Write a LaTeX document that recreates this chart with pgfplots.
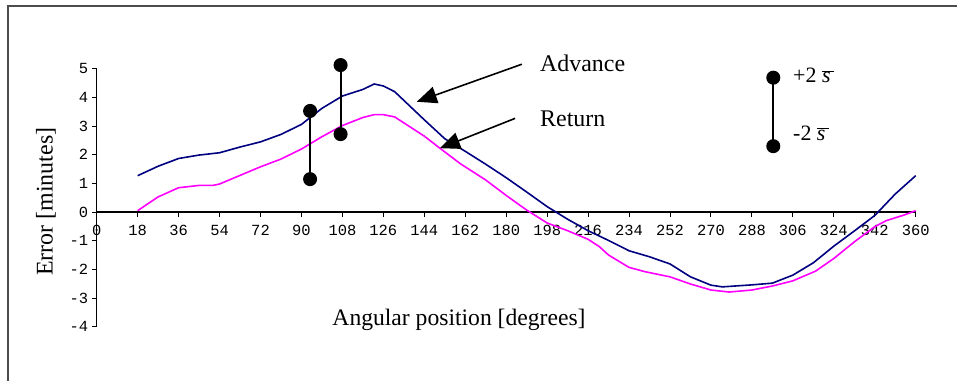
\documentclass[border=0pt]{standalone}
\usepackage{fontspec}
\setmainfont{Liberation Serif}
\setmonofont{Liberation Mono}
\usepackage{pgfplots}
\pgfplotsset{compat=1.18}
\usetikzlibrary{arrows.meta}
\definecolor{adv}{HTML}{000080}
\definecolor{ret}{HTML}{FF00FF}
\begin{document}
\begin{tikzpicture}
\useasboundingbox (0,0) rectangle (957bp,-381bp);
\draw[line width=2bp, black!70] (7.5bp,-390bp) -- (7.5bp,-5.5bp) -- (965bp,-5.5bp);
\begin{axis}[
  at={(96.7bp,-326.7bp)}, anchor=south west,
  scale only axis, width=819bp, height=257.9bp,
  xmin=0, xmax=360, ymin=-4, ymax=5,
  axis x line*=middle, axis y line*=left,
  axis line style={line width=1.2bp, black},
  xtick={0,18,...,360}, ytick={-4,-3,...,5},
  hide obscured x ticks=false,
  tick align=outside, major tick length=5bp,
  tick style={line width=1bp, black},
  /pgf/number format/assume math mode=true,
  ticklabel style={font=\ttfamily\fontsize{15.5}{15.5}\selectfont},
  x tick label style={yshift=-5bp},
  clip=false,
]
\addplot[adv, line width=1.6bp] coordinates {
(18,1.27) (27,1.60) (36,1.87) (45,1.99) (54,2.07) (63,2.27) (72,2.45) (81,2.71)
(90,3.06) (99,3.62) (108,4.05) (117,4.28) (122,4.47) (126,4.40) (131,4.20)
(144,3.22) (153,2.56) (162,2.12) (171,1.67) (180,1.20) (189,0.70) (198,0.19)
(207,-0.25) (216,-0.65) (225,-0.99) (234,-1.35) (243,-1.56) (252,-1.81)
(261,-2.26) (270,-2.55) (275,-2.61) (288,-2.54) (297,-2.48) (306,-2.20)
(315,-1.77) (324,-1.19) (333,-0.66) (342,-0.12) (351,0.63) (360,1.27)};
\addplot[ret, line width=1.6bp] coordinates {
(18,0.05) (27,0.53) (36,0.85) (45,0.93) (51,0.93) (54,0.98) (63,1.28) (72,1.58)
(81,1.85) (90,2.20) (99,2.63) (108,3.02) (117,3.30) (122,3.40) (126,3.40)
(131,3.32) (144,2.65) (151,2.22) (160,1.68) (171,1.12) (180,0.58) (189,0.07)
(198,-0.38) (207,-0.65) (216,-0.95) (221,-1.21) (225,-1.50) (234,-1.93)
(241,-2.08) (252,-2.26) (261,-2.51) (270,-2.72) (278,-2.79) (288,-2.72)
(297,-2.58) (306,-2.40) (316,-2.06) (324,-1.62) (333,-1.04) (342,-0.51)
(347,-0.30) (355,-0.10) (360,0.05)};
\addplot[black, line width=2bp, mark=*, mark size=6bp] coordinates {(93.8,3.53) (93.8,1.15)};
\addplot[black, line width=2bp, mark=*, mark size=6bp] coordinates {(107.2,5.13) (107.2,2.72)};
\addplot[black, line width=2bp, mark=*, mark size=6bp] coordinates {(297.4,4.69) (297.4,2.30)};
\draw[line width=1.6bp, -{Triangle[length=20bp,width=17bp]}] (axis cs:186.9,5.16) -- (axis cs:140.7,3.85);
\draw[line width=1.6bp, -{Triangle[length=20bp,width=17bp]}] (axis cs:183.9,3.27) -- (axis cs:150.9,2.23);
\end{axis}
\node[anchor=base west, inner sep=0pt, font=\fontsize{24}{24}\selectfont] at (540bp,-71.7bp) {Advance};
\node[anchor=base west, inner sep=0pt, font=\fontsize{24}{24}\selectfont] at (540bp,-126bp) {Return};
\node[anchor=base west, inner sep=0pt, font=\fontsize{22}{22}\selectfont] at (793bp,-82.7bp) {+2 $\overline{\mbox{\itshape s\,}}$};
\node[anchor=base west, inner sep=0pt, font=\fontsize{22}{22}\selectfont] at (793bp,-140bp) {-2 $\overline{\mbox{\itshape s\,}}$};
\node[anchor=base, inner sep=0pt, font=\fontsize{23.7}{24}\selectfont] at (459bp,-325bp) {Angular position [degrees]};
\node[anchor=base, rotate=90, inner sep=0pt, font=\fontsize{24}{24}\selectfont] at (52.7bp,-201.7bp) {Error [minutes]};
\end{tikzpicture}
\end{document}
